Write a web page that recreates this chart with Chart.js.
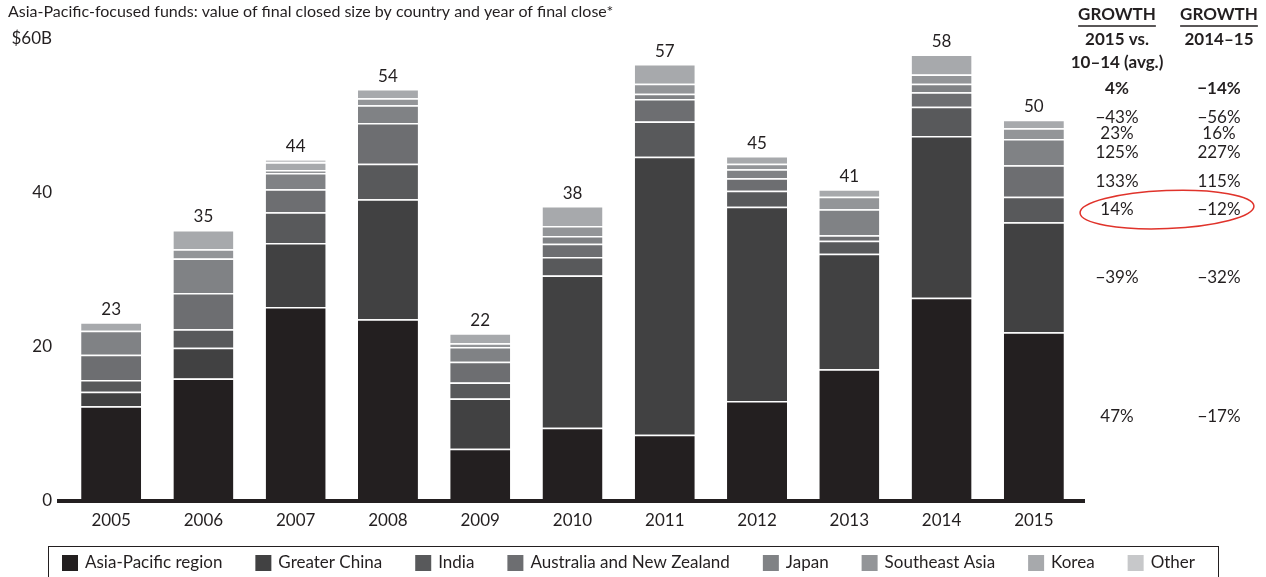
<!DOCTYPE html>
<html>
<head>
<meta charset="utf-8">
<script src="https://cdn.jsdelivr.net/npm/chart.js@4.4.1/dist/chart.umd.min.js"></script>
<style>
  html, body { margin: 0; padding: 0; background: #fff; }
</style>
</head>
<body>
<canvas id="myChart" width="1266" height="577"></canvas>
<script>
const years = ["2005", "2006", "2007", "2008", "2009", "2010", "2011", "2012", "2013", "2014", "2015"];

// $B
const asiaPacific   = [12.3, 15.9, 25.2, 23.6, 6.8, 9.5, 8.6, 13.0, 17.1, 26.4, 21.9];
const greaterChina  = [1.9, 4.0, 8.3, 15.6, 6.5, 19.8, 36.1, 25.2, 15.0, 21.0, 14.3];
const india         = [1.5, 2.4, 4.0, 4.6, 2.1, 2.4, 4.6, 2.1, 1.7, 3.8, 3.3];
const ausNZ         = [3.3, 4.7, 3.0, 5.3, 2.7, 1.7, 2.9, 1.6, 0.7, 1.9, 4.1];
const japan         = [3.1, 4.5, 2.1, 2.3, 1.9, 1.0, 0.7, 1.2, 3.4, 1.1, 3.4];
const southeastAsia = [0, 1.2, 0.4, 0.9, 0.5, 1.3, 1.3, 0.7, 1.6, 1.2, 1.4];
const korea         = [1.1, 2.5, 1.0, 1.2, 1.3, 2.6, 2.55, 1.0, 1.0, 2.6, 1.1];
const other         = [0, 0, 0.4, 0, 0, 0, 0, 0, 0, 0, 0];

const totalLabels = [23, 35, 44, 54, 22, 38, 57, 45, 41, 58, 50];

const yTicks = [0, 20, 40, 60];
const yTickLabels = ["0", "20", "40", "$60B"];

// growth columns, one entry per series (Asia-Pacific up to Korea)
const growthVsAvg = ["47%", "\u221239%", "14%", "133%", "125%", "23%", "\u221243%"];
const growth1415  = ["\u221217%", "\u221232%", "\u221212%", "115%", "227%", "16%", "\u221256%"];
const growthTotal = ["4%", "\u221214%"];

const seriesNames = ["Asia-Pacific region", "Greater China", "India", "Australia and New Zealand",
  "Japan", "Southeast Asia", "Korea", "Other"];
const seriesData = [asiaPacific, greaterChina, india, ausNZ, japan, southeastAsia, korea, other];
const seriesColors = ["#231f20", "#414142", "#58595b", "#6d6e71", "#808285", "#939598", "#a7a9ac", "#c7c8ca"];

const FONT = "Lato, 'Noto Sans', sans-serif";
const INK = "#231f20";

const extras = {
  id: "extras",
  afterDraw(chart) {
    const ctx = chart.ctx;
    const area = chart.chartArea;
    const y = chart.scales.y;
    ctx.save();

    // heading
    ctx.fillStyle = INK;
    ctx.font = "16px " + FONT;
    ctx.textAlign = "left";
    ctx.textBaseline = "middle";
    ctx.fillText("Asia-Pacific-focused funds: value of final closed size by country and year of final close*", 8, 12);

    // thick baseline
    const y0 = y.getPixelForValue(0);
    ctx.strokeStyle = INK;
    ctx.lineWidth = 4;
    ctx.beginPath();
    ctx.moveTo(area.left - 8, y0);
    ctx.lineTo(area.right + 5, y0);
    ctx.stroke();

    // totals above bars
    const lastMeta = chart.getDatasetMeta(seriesData.length - 1);
    ctx.font = "17px " + FONT;
    ctx.textAlign = "center";
    totalLabels.forEach((label, i) => {
      const sum = seriesData.reduce((s, arr) => s + arr[i], 0);
      ctx.fillText(String(label), lastMeta.data[i].x, y.getPixelForValue(sum) - 13);
    });

    // growth table
    const col1 = 1117, col2 = 1219;
    ctx.font = "bold 17px " + FONT;
    [["GROWTH", col1], ["GROWTH", col2]].forEach(([t, x]) => {
      ctx.fillText(t, x, 15);
      const w = ctx.measureText(t).width;
      ctx.lineWidth = 1.5;
      ctx.beginPath();
      ctx.moveTo(x - w / 2, 26);
      ctx.lineTo(x + w / 2, 26);
      ctx.stroke();
    });
    ctx.fillText("2015 vs.", col1, 40);
    ctx.fillText("10\u201314 (avg.)", col1, 63);
    ctx.fillText("2014\u201315", col2, 40);
    ctx.fillText(growthTotal[0], col1, 89);
    ctx.fillText(growthTotal[1], col2, 89);

    // rows sit beside the 2015 segments
    const last = years.length - 1;
    let base = 0;
    const rowY = [];
    growthVsAvg.forEach((g, k) => {
      const v = seriesData[k][last];
      let py = y.getPixelForValue(base + v / 2);
      if (k > 0 && py > rowY[k - 1] - 16) py = rowY[k - 1] - 16;
      rowY.push(py);
      base += v;
    });
    ctx.font = "17px " + FONT;
    growthVsAvg.forEach((g, k) => {
      ctx.fillText(g, col1, rowY[k]);
      ctx.fillText(growth1415[k], col2, rowY[k]);
    });

    // red ring around India row
    ctx.strokeStyle = "#e0332b";
    ctx.lineWidth = 1.5;
    ctx.beginPath();
    ctx.ellipse(1167, rowY[2], 87, 19, -0.04, 0, Math.PI * 2);
    ctx.stroke();

    // legend
    ctx.strokeStyle = INK;
    ctx.lineWidth = 1;
    ctx.strokeRect(48.5, 546.5, 1170, 40);
    ctx.font = "17px " + FONT;
    ctx.textAlign = "left";
    let lx = 62;
    const ly = 563;
    chart.data.datasets.forEach(ds => {
      ctx.fillStyle = ds.backgroundColor;
      ctx.fillRect(lx, ly - 8, 16, 16);
      ctx.fillStyle = INK;
      ctx.fillText(ds.label, lx + 23, ly);
      lx += 23 + ctx.measureText(ds.label).width + 33;
    });

    ctx.restore();
  }
};

const chartCtx = document.getElementById("myChart").getContext("2d");
const fundsChart = new Chart(chartCtx, {
  type: "bar",
  data: {
    labels: years,
    datasets: seriesNames.map((name, k) => ({
      label: name,
      data: seriesData[k],
      backgroundColor: seriesColors[k],
      borderColor: "#ffffff",
      borderWidth: { top: 1.5, bottom: 0, left: 0, right: 0 },
      borderSkipped: false,
      barPercentage: 0.65,
      categoryPercentage: 1,
    })),
  },
  options: {
    responsive: false,
    animation: false,
    layout: {
      padding: { left: 0, right: 186, top: 39, bottom: 0 },
    },
    plugins: {
      legend: { display: false },
      tooltip: { enabled: false },
    },
    scales: {
      x: {
        stacked: true,
        grid: { display: false, drawTicks: false },
        border: { display: false },
        ticks: {
          color: INK,
          padding: 9,
          font: { family: FONT, size: 17 },
        },
        afterFit(scale) { scale.height = 76; },
      },
      y: {
        stacked: true,
        min: 0,
        max: 60,
        grid: { display: false, drawTicks: false },
        border: { display: false },
        afterBuildTicks(scale) { scale.ticks = yTicks.map(v => ({ value: v })); },
        ticks: {
          color: INK,
          padding: 13,
          font: { family: FONT, size: 17 },
          callback: (v) => yTickLabels[yTicks.indexOf(v)],
        },
        afterFit(scale) { scale.width = 65; },
      },
    },
  },
  plugins: [extras],
});
</script>
</body>
</html>
